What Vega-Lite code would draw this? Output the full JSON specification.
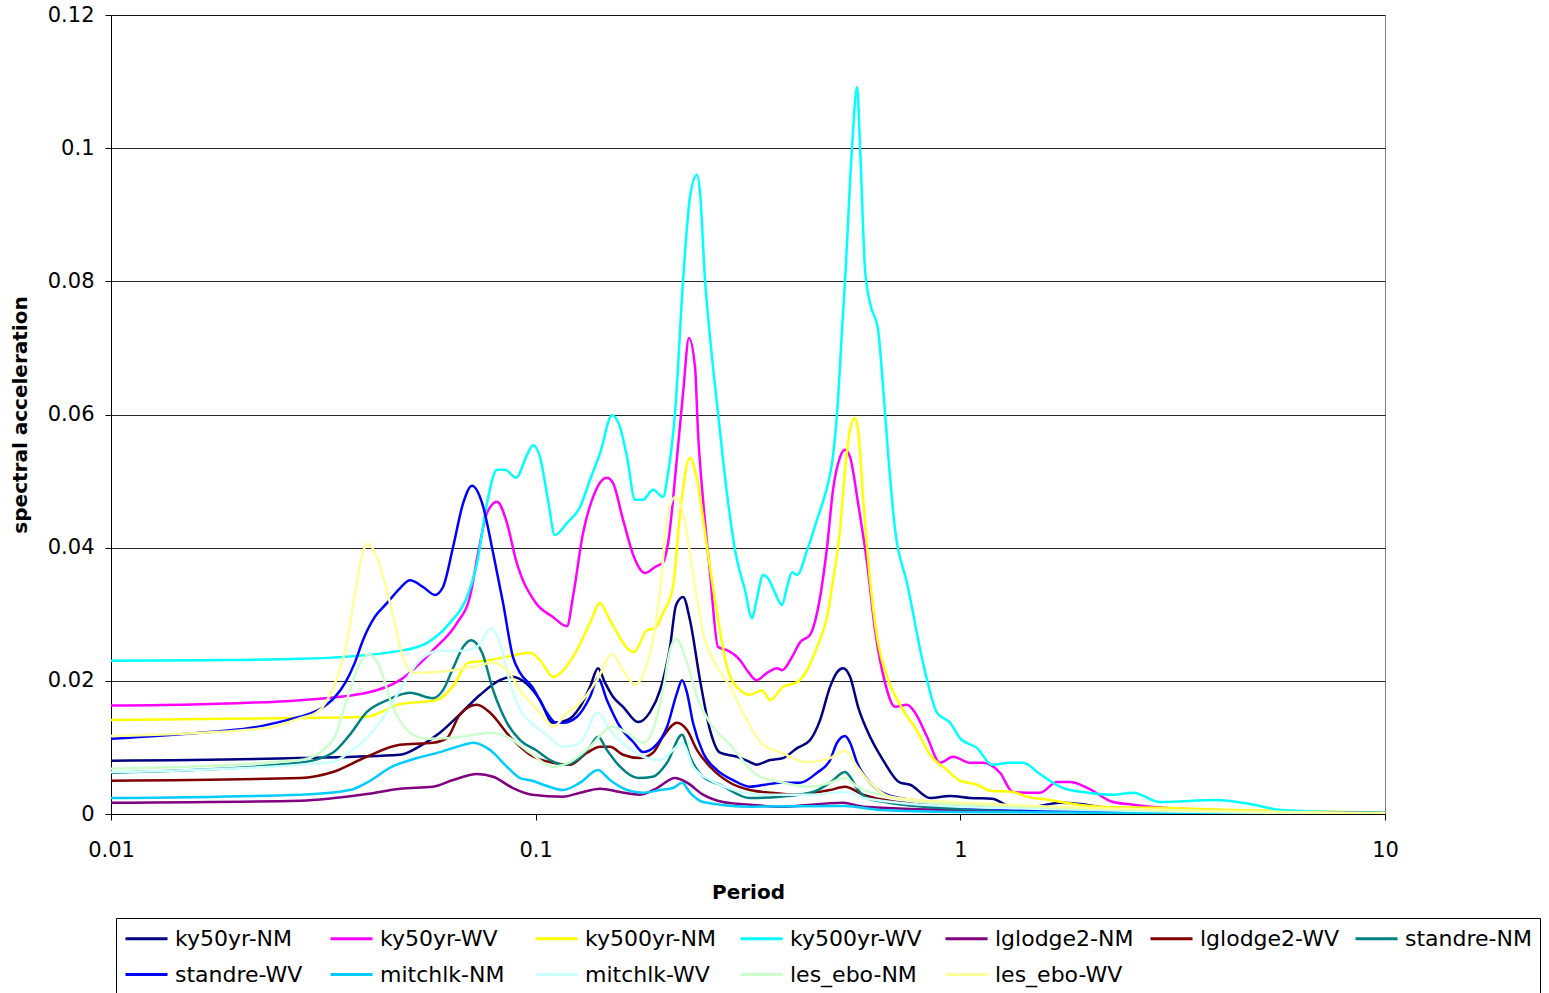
{
  "$schema": "https://vega.github.io/schema/vega-lite/v6.json",
  "width": 1274,
  "height": 799,
  "autosize": {"type": "none"},
  "padding": {"left": 111, "top": 15, "right": 164, "bottom": 179},
  "background": "white",
  "config": {
    "font": "DejaVu Sans",
    "view": {"stroke": "#808080", "strokeWidth": 1}
  },
  "datasets": {
    "spectra": [
      {"series":"ky50yr-NM","T":0.01,"Sa":0.0080},{"series":"ky50yr-NM","T":0.0279,"Sa":0.0084},{"series":"ky50yr-NM","T":0.0479,"Sa":0.0089},{"series":"ky50yr-NM","T":0.0534,"Sa":0.0102},{"series":"ky50yr-NM","T":0.0595,"Sa":0.0122},{"series":"ky50yr-NM","T":0.0664,"Sa":0.0150},{"series":"ky50yr-NM","T":0.0740,"Sa":0.0179},{"series":"ky50yr-NM","T":0.0824,"Sa":0.0201},{"series":"ky50yr-NM","T":0.0880,"Sa":0.0206},{"series":"ky50yr-NM","T":0.0954,"Sa":0.0195},{"series":"ky50yr-NM","T":0.1024,"Sa":0.0171},{"series":"ky50yr-NM","T":0.1098,"Sa":0.0137},{"series":"ky50yr-NM","T":0.1185,"Sa":0.0141},{"series":"ky50yr-NM","T":0.1272,"Sa":0.0161},{"series":"ky50yr-NM","T":0.1343,"Sa":0.0191},{"series":"ky50yr-NM","T":0.1402,"Sa":0.0219},{"series":"ky50yr-NM","T":0.1457,"Sa":0.0197},{"series":"ky50yr-NM","T":0.1521,"Sa":0.0176},{"series":"ky50yr-NM","T":0.1606,"Sa":0.0161},{"series":"ky50yr-NM","T":0.1742,"Sa":0.0138},{"series":"ky50yr-NM","T":0.1859,"Sa":0.0153},{"series":"ky50yr-NM","T":0.1963,"Sa":0.0186},{"series":"ky50yr-NM","T":0.2072,"Sa":0.0251},{"series":"ky50yr-NM","T":0.2141,"Sa":0.0314},{"series":"ky50yr-NM","T":0.2224,"Sa":0.0326},{"series":"ky50yr-NM","T":0.2309,"Sa":0.0291},{"series":"ky50yr-NM","T":0.2438,"Sa":0.0201},{"series":"ky50yr-NM","T":0.2574,"Sa":0.0126},{"series":"ky50yr-NM","T":0.2717,"Sa":0.0092},{"series":"ky50yr-NM","T":0.2980,"Sa":0.0086},{"series":"ky50yr-NM","T":0.3197,"Sa":0.0078},{"series":"ky50yr-NM","T":0.3312,"Sa":0.0074},{"series":"ky50yr-NM","T":0.3564,"Sa":0.0081},{"series":"ky50yr-NM","T":0.3824,"Sa":0.0084},{"series":"ky50yr-NM","T":0.4126,"Sa":0.0099},{"series":"ky50yr-NM","T":0.4427,"Sa":0.0111},{"series":"ky50yr-NM","T":0.4674,"Sa":0.0141},{"series":"ky50yr-NM","T":0.4934,"Sa":0.0191},{"series":"ky50yr-NM","T":0.5125,"Sa":0.0213},{"series":"ky50yr-NM","T":0.5295,"Sa":0.0219},{"series":"ky50yr-NM","T":0.5500,"Sa":0.0206},{"series":"ky50yr-NM","T":0.5743,"Sa":0.0161},{"series":"ky50yr-NM","T":0.6130,"Sa":0.0116},{"series":"ky50yr-NM","T":0.6578,"Sa":0.0081},{"series":"ky50yr-NM","T":0.7212,"Sa":0.0047},{"series":"ky50yr-NM","T":0.7614,"Sa":0.0044},{"series":"ky50yr-NM","T":0.8486,"Sa":0.0024},{"series":"ky50yr-NM","T":0.9458,"Sa":0.0027},{"series":"ky50yr-NM","T":1.054,"Sa":0.0024},{"series":"ky50yr-NM","T":1.188,"Sa":0.0023},{"series":"ky50yr-NM","T":1.309,"Sa":0.0012},{"series":"ky50yr-NM","T":1.482,"Sa":0.0011},{"series":"ky50yr-NM","T":1.717,"Sa":0.0017},{"series":"ky50yr-NM","T":1.913,"Sa":0.0015},{"series":"ky50yr-NM","T":2.217,"Sa":0.0009},{"series":"ky50yr-NM","T":2.551,"Sa":0.0005},{"series":"ky50yr-NM","T":5.0,"Sa":0.0002},{"series":"ky50yr-NM","T":10,"Sa":0.0001},

      {"series":"ky50yr-WV","T":0.01,"Sa":0.0163},{"series":"ky50yr-WV","T":0.0162,"Sa":0.0165},{"series":"ky50yr-WV","T":0.0279,"Sa":0.0171},{"series":"ky50yr-WV","T":0.0400,"Sa":0.0182},{"series":"ky50yr-WV","T":0.0479,"Sa":0.0201},{"series":"ky50yr-WV","T":0.0573,"Sa":0.0246},{"series":"ky50yr-WV","T":0.0653,"Sa":0.0287},{"series":"ky50yr-WV","T":0.0700,"Sa":0.0326},{"series":"ky50yr-WV","T":0.0732,"Sa":0.0392},{"series":"ky50yr-WV","T":0.0768,"Sa":0.0452},{"series":"ky50yr-WV","T":0.0811,"Sa":0.0469},{"series":"ky50yr-WV","T":0.0856,"Sa":0.0437},{"series":"ky50yr-WV","T":0.0899,"Sa":0.0381},{"series":"ky50yr-WV","T":0.1001,"Sa":0.0317},{"series":"ky50yr-WV","T":0.1098,"Sa":0.0296},{"series":"ky50yr-WV","T":0.1185,"Sa":0.0282},{"series":"ky50yr-WV","T":0.1224,"Sa":0.0326},{"series":"ky50yr-WV","T":0.1293,"Sa":0.0422},{"series":"ky50yr-WV","T":0.1365,"Sa":0.0476},{"series":"ky50yr-WV","T":0.1472,"Sa":0.0505},{"series":"ky50yr-WV","T":0.1521,"Sa":0.0497},{"series":"ky50yr-WV","T":0.1606,"Sa":0.0442},{"series":"ky50yr-WV","T":0.1704,"Sa":0.0386},{"series":"ky50yr-WV","T":0.1809,"Sa":0.0362},{"series":"ky50yr-WV","T":0.1910,"Sa":0.0371},{"series":"ky50yr-WV","T":0.1995,"Sa":0.0378},{"series":"ky50yr-WV","T":0.2050,"Sa":0.0407},{"series":"ky50yr-WV","T":0.2152,"Sa":0.0536},{"series":"ky50yr-WV","T":0.2224,"Sa":0.0632},{"series":"ky50yr-WV","T":0.2296,"Sa":0.0715},{"series":"ky50yr-WV","T":0.2373,"Sa":0.0671},{"series":"ky50yr-WV","T":0.2412,"Sa":0.0572},{"series":"ky50yr-WV","T":0.2478,"Sa":0.0472},{"series":"ky50yr-WV","T":0.2574,"Sa":0.0362},{"series":"ky50yr-WV","T":0.2688,"Sa":0.0251},{"series":"ky50yr-WV","T":0.2822,"Sa":0.0246},{"series":"ky50yr-WV","T":0.3029,"Sa":0.0231},{"series":"ky50yr-WV","T":0.3145,"Sa":0.0216},{"series":"ky50yr-WV","T":0.3312,"Sa":0.0201},{"series":"ky50yr-WV","T":0.3506,"Sa":0.0212},{"series":"ky50yr-WV","T":0.3702,"Sa":0.0219},{"series":"ky50yr-WV","T":0.3803,"Sa":0.0216},{"series":"ky50yr-WV","T":0.4016,"Sa":0.0236},{"series":"ky50yr-WV","T":0.4194,"Sa":0.0258},{"series":"ky50yr-WV","T":0.4427,"Sa":0.0269},{"series":"ky50yr-WV","T":0.4598,"Sa":0.0302},{"series":"ky50yr-WV","T":0.4855,"Sa":0.0401},{"series":"ky50yr-WV","T":0.5015,"Sa":0.0487},{"series":"ky50yr-WV","T":0.5209,"Sa":0.0536},{"series":"ky50yr-WV","T":0.5353,"Sa":0.0547},{"series":"ky50yr-WV","T":0.5500,"Sa":0.0536},{"series":"ky50yr-WV","T":0.5743,"Sa":0.0467},{"series":"ky50yr-WV","T":0.6031,"Sa":0.0377},{"series":"ky50yr-WV","T":0.6298,"Sa":0.0276},{"series":"ky50yr-WV","T":0.6649,"Sa":0.0197},{"series":"ky50yr-WV","T":0.7020,"Sa":0.0161},{"series":"ky50yr-WV","T":0.7491,"Sa":0.0164},{"series":"ky50yr-WV","T":0.7824,"Sa":0.0152},{"series":"ky50yr-WV","T":0.8349,"Sa":0.0116},{"series":"ky50yr-WV","T":0.8959,"Sa":0.0077},{"series":"ky50yr-WV","T":0.9612,"Sa":0.0086},{"series":"ky50yr-WV","T":1.054,"Sa":0.0077},{"series":"ky50yr-WV","T":1.131,"Sa":0.0077},{"series":"ky50yr-WV","T":1.240,"Sa":0.0062},{"series":"ky50yr-WV","T":1.330,"Sa":0.0033},{"series":"ky50yr-WV","T":1.540,"Sa":0.0032},{"series":"ky50yr-WV","T":1.689,"Sa":0.0048},{"series":"ky50yr-WV","T":1.812,"Sa":0.0048},{"series":"ky50yr-WV","T":1.995,"Sa":0.0039},{"series":"ky50yr-WV","T":2.288,"Sa":0.0018},{"series":"ky50yr-WV","T":2.551,"Sa":0.0014},{"series":"ky50yr-WV","T":3.067,"Sa":0.0009},{"series":"ky50yr-WV","T":4.02,"Sa":0.0006},{"series":"ky50yr-WV","T":5.70,"Sa":0.0003},{"series":"ky50yr-WV","T":10,"Sa":0.0002},

      {"series":"ky500yr-NM","T":0.01,"Sa":0.0141},{"series":"ky500yr-NM","T":0.0279,"Sa":0.0144},{"series":"ky500yr-NM","T":0.0400,"Sa":0.0146},{"series":"ky500yr-NM","T":0.0479,"Sa":0.0165},{"series":"ky500yr-NM","T":0.0585,"Sa":0.0171},{"series":"ky500yr-NM","T":0.0639,"Sa":0.0192},{"series":"ky500yr-NM","T":0.0693,"Sa":0.0227},{"series":"ky500yr-NM","T":0.0760,"Sa":0.0230},{"series":"ky500yr-NM","T":0.0856,"Sa":0.0236},{"series":"ky500yr-NM","T":0.0970,"Sa":0.0242},{"series":"ky500yr-NM","T":0.1024,"Sa":0.0231},{"series":"ky500yr-NM","T":0.1098,"Sa":0.0206},{"series":"ky500yr-NM","T":0.1224,"Sa":0.0236},{"series":"ky500yr-NM","T":0.1343,"Sa":0.0287},{"series":"ky500yr-NM","T":0.1418,"Sa":0.0317},{"series":"ky500yr-NM","T":0.1496,"Sa":0.0291},{"series":"ky500yr-NM","T":0.1704,"Sa":0.0243},{"series":"ky500yr-NM","T":0.1829,"Sa":0.0276},{"series":"ky500yr-NM","T":0.1910,"Sa":0.0279},{"series":"ky500yr-NM","T":0.1995,"Sa":0.0302},{"series":"ky500yr-NM","T":0.2106,"Sa":0.0341},{"series":"ky500yr-NM","T":0.2188,"Sa":0.0452},{"series":"ky500yr-NM","T":0.2309,"Sa":0.0535},{"series":"ky500yr-NM","T":0.2399,"Sa":0.0502},{"series":"ky500yr-NM","T":0.2532,"Sa":0.0401},{"series":"ky500yr-NM","T":0.2674,"Sa":0.0302},{"series":"ky500yr-NM","T":0.2822,"Sa":0.0221},{"series":"ky500yr-NM","T":0.3029,"Sa":0.0186},{"series":"ky500yr-NM","T":0.3197,"Sa":0.0179},{"series":"ky500yr-NM","T":0.3413,"Sa":0.0186},{"series":"ky500yr-NM","T":0.3564,"Sa":0.0171},{"series":"ky500yr-NM","T":0.3824,"Sa":0.0191},{"series":"ky500yr-NM","T":0.4126,"Sa":0.0198},{"series":"ky500yr-NM","T":0.4356,"Sa":0.0216},{"series":"ky500yr-NM","T":0.4598,"Sa":0.0251},{"series":"ky500yr-NM","T":0.4855,"Sa":0.0296},{"series":"ky500yr-NM","T":0.5015,"Sa":0.0351},{"series":"ky500yr-NM","T":0.5209,"Sa":0.0427},{"series":"ky500yr-NM","T":0.5353,"Sa":0.0517},{"series":"ky500yr-NM","T":0.5500,"Sa":0.0577},{"series":"ky500yr-NM","T":0.5651,"Sa":0.0595},{"series":"ky500yr-NM","T":0.5743,"Sa":0.0577},{"series":"ky500yr-NM","T":0.5902,"Sa":0.0476},{"series":"ky500yr-NM","T":0.6130,"Sa":0.0351},{"series":"ky500yr-NM","T":0.6401,"Sa":0.0257},{"series":"ky500yr-NM","T":0.6722,"Sa":0.0206},{"series":"ky500yr-NM","T":0.7212,"Sa":0.0164},{"series":"ky500yr-NM","T":0.7909,"Sa":0.0125},{"series":"ky500yr-NM","T":0.8486,"Sa":0.0089},{"series":"ky500yr-NM","T":0.9306,"Sa":0.0066},{"series":"ky500yr-NM","T":0.998,"Sa":0.0050},{"series":"ky500yr-NM","T":1.095,"Sa":0.0044},{"series":"ky500yr-NM","T":1.175,"Sa":0.0035},{"series":"ky500yr-NM","T":1.330,"Sa":0.0033},{"series":"ky500yr-NM","T":1.436,"Sa":0.0026},{"series":"ky500yr-NM","T":1.626,"Sa":0.0021},{"series":"ky500yr-NM","T":1.842,"Sa":0.0015},{"series":"ky500yr-NM","T":2.133,"Sa":0.0011},{"series":"ky500yr-NM","T":3.067,"Sa":0.0009},{"series":"ky500yr-NM","T":4.37,"Sa":0.0006},{"series":"ky500yr-NM","T":10,"Sa":0.0002},

      {"series":"ky500yr-WV","T":0.01,"Sa":0.0230},{"series":"ky500yr-WV","T":0.0162,"Sa":0.0231},{"series":"ky500yr-WV","T":0.0279,"Sa":0.0233},{"series":"ky500yr-WV","T":0.0479,"Sa":0.0245},{"series":"ky500yr-WV","T":0.0555,"Sa":0.0257},{"series":"ky500yr-WV","T":0.0628,"Sa":0.0287},{"series":"ky500yr-WV","T":0.0689,"Sa":0.0326},{"series":"ky500yr-WV","T":0.0728,"Sa":0.0377},{"series":"ky500yr-WV","T":0.0768,"Sa":0.0467},{"series":"ky500yr-WV","T":0.0811,"Sa":0.0517},{"series":"ky500yr-WV","T":0.0847,"Sa":0.0517},{"series":"ky500yr-WV","T":0.0899,"Sa":0.0505},{"series":"ky500yr-WV","T":0.0954,"Sa":0.0539},{"series":"ky500yr-WV","T":0.0986,"Sa":0.0554},{"series":"ky500yr-WV","T":0.1024,"Sa":0.0536},{"series":"ky500yr-WV","T":0.1069,"Sa":0.0472},{"series":"ky500yr-WV","T":0.1110,"Sa":0.0419},{"series":"ky500yr-WV","T":0.1185,"Sa":0.0437},{"series":"ky500yr-WV","T":0.1272,"Sa":0.0461},{"series":"ky500yr-WV","T":0.1343,"Sa":0.0502},{"series":"ky500yr-WV","T":0.1418,"Sa":0.0542},{"series":"ky500yr-WV","T":0.1513,"Sa":0.0599},{"series":"ky500yr-WV","T":0.1580,"Sa":0.0581},{"series":"ky500yr-WV","T":0.1641,"Sa":0.0536},{"series":"ky500yr-WV","T":0.1714,"Sa":0.0472},{"series":"ky500yr-WV","T":0.1790,"Sa":0.0472},{"series":"ky500yr-WV","T":0.1889,"Sa":0.0487},{"series":"ky500yr-WV","T":0.1995,"Sa":0.0476},{"series":"ky500yr-WV","T":0.2050,"Sa":0.0512},{"series":"ky500yr-WV","T":0.2129,"Sa":0.0602},{"series":"ky500yr-WV","T":0.2224,"Sa":0.0802},{"series":"ky500yr-WV","T":0.2272,"Sa":0.0882},{"series":"ky500yr-WV","T":0.2309,"Sa":0.0927},{"series":"ky500yr-WV","T":0.2399,"Sa":0.0960},{"series":"ky500yr-WV","T":0.2438,"Sa":0.0933},{"series":"ky500yr-WV","T":0.2505,"Sa":0.0802},{"series":"ky500yr-WV","T":0.2574,"Sa":0.0716},{"series":"ky500yr-WV","T":0.2688,"Sa":0.0602},{"series":"ky500yr-WV","T":0.2762,"Sa":0.0532},{"series":"ky500yr-WV","T":0.2869,"Sa":0.0446},{"series":"ky500yr-WV","T":0.2948,"Sa":0.0396},{"series":"ky500yr-WV","T":0.3112,"Sa":0.0336},{"series":"ky500yr-WV","T":0.3232,"Sa":0.0294},{"series":"ky500yr-WV","T":0.3312,"Sa":0.0321},{"series":"ky500yr-WV","T":0.3431,"Sa":0.0359},{"series":"ky500yr-WV","T":0.3525,"Sa":0.0354},{"series":"ky500yr-WV","T":0.3662,"Sa":0.0332},{"series":"ky500yr-WV","T":0.3803,"Sa":0.0314},{"series":"ky500yr-WV","T":0.3908,"Sa":0.0341},{"series":"ky500yr-WV","T":0.4016,"Sa":0.0363},{"series":"ky500yr-WV","T":0.4126,"Sa":0.0359},{"series":"ky500yr-WV","T":0.4356,"Sa":0.0396},{"series":"ky500yr-WV","T":0.4598,"Sa":0.0442},{"series":"ky500yr-WV","T":0.4855,"Sa":0.0491},{"series":"ky500yr-WV","T":0.4988,"Sa":0.0527},{"series":"ky500yr-WV","T":0.5125,"Sa":0.0602},{"series":"ky500yr-WV","T":0.5266,"Sa":0.0727},{"series":"ky500yr-WV","T":0.5353,"Sa":0.0802},{"series":"ky500yr-WV","T":0.5560,"Sa":0.1002},{"series":"ky500yr-WV","T":0.5713,"Sa":0.1092},{"series":"ky500yr-WV","T":0.5806,"Sa":0.1002},{"series":"ky500yr-WV","T":0.5966,"Sa":0.0817},{"series":"ky500yr-WV","T":0.6130,"Sa":0.0767},{"series":"ky500yr-WV","T":0.6401,"Sa":0.0727},{"series":"ky500yr-WV","T":0.6578,"Sa":0.0641},{"series":"ky500yr-WV","T":0.6758,"Sa":0.0542},{"series":"ky500yr-WV","T":0.7020,"Sa":0.0427},{"series":"ky500yr-WV","T":0.7491,"Sa":0.0347},{"series":"ky500yr-WV","T":0.8171,"Sa":0.0227},{"series":"ky500yr-WV","T":0.8815,"Sa":0.0152},{"series":"ky500yr-WV","T":0.9458,"Sa":0.0137},{"series":"ky500yr-WV","T":0.998,"Sa":0.0114},{"series":"ky500yr-WV","T":1.095,"Sa":0.0099},{"series":"ky500yr-WV","T":1.188,"Sa":0.0074},{"series":"ky500yr-WV","T":1.309,"Sa":0.0077},{"series":"ky500yr-WV","T":1.405,"Sa":0.0077},{"series":"ky500yr-WV","T":1.540,"Sa":0.0060},{"series":"ky500yr-WV","T":1.745,"Sa":0.0039},{"series":"ky500yr-WV","T":1.995,"Sa":0.0032},{"series":"ky500yr-WV","T":2.288,"Sa":0.0029},{"series":"ky500yr-WV","T":2.551,"Sa":0.0032},{"series":"ky500yr-WV","T":2.953,"Sa":0.0018},{"series":"ky500yr-WV","T":4.02,"Sa":0.0021},{"series":"ky500yr-WV","T":4.81,"Sa":0.0015},{"series":"ky500yr-WV","T":5.70,"Sa":0.0006},{"series":"ky500yr-WV","T":7.55,"Sa":0.0003},{"series":"ky500yr-WV","T":10,"Sa":0.0002},

      {"series":"lglodge2-NM","T":0.01,"Sa":0.0017},{"series":"lglodge2-NM","T":0.0279,"Sa":0.0020},{"series":"lglodge2-NM","T":0.0400,"Sa":0.0030},{"series":"lglodge2-NM","T":0.0479,"Sa":0.0038},{"series":"lglodge2-NM","T":0.0573,"Sa":0.0041},{"series":"lglodge2-NM","T":0.0639,"Sa":0.0051},{"series":"lglodge2-NM","T":0.0728,"Sa":0.0060},{"series":"lglodge2-NM","T":0.0794,"Sa":0.0056},{"series":"lglodge2-NM","T":0.0884,"Sa":0.0039},{"series":"lglodge2-NM","T":0.0981,"Sa":0.0029},{"series":"lglodge2-NM","T":0.1160,"Sa":0.0026},{"series":"lglodge2-NM","T":0.1272,"Sa":0.0032},{"series":"lglodge2-NM","T":0.1418,"Sa":0.0038},{"series":"lglodge2-NM","T":0.1580,"Sa":0.0033},{"series":"lglodge2-NM","T":0.1761,"Sa":0.0029},{"series":"lglodge2-NM","T":0.1931,"Sa":0.0039},{"series":"lglodge2-NM","T":0.2129,"Sa":0.0054},{"series":"lglodge2-NM","T":0.2272,"Sa":0.0047},{"series":"lglodge2-NM","T":0.2478,"Sa":0.0029},{"series":"lglodge2-NM","T":0.2762,"Sa":0.0018},{"series":"lglodge2-NM","T":0.3197,"Sa":0.0014},{"series":"lglodge2-NM","T":0.3762,"Sa":0.0011},{"series":"lglodge2-NM","T":0.5295,"Sa":0.0017},{"series":"lglodge2-NM","T":0.5902,"Sa":0.0011},{"series":"lglodge2-NM","T":0.998,"Sa":0.0006},{"series":"lglodge2-NM","T":10,"Sa":0.0001},

      {"series":"lglodge2-WV","T":0.01,"Sa":0.0050},{"series":"lglodge2-WV","T":0.0279,"Sa":0.0054},{"series":"lglodge2-WV","T":0.0333,"Sa":0.0063},{"series":"lglodge2-WV","T":0.0400,"Sa":0.0086},{"series":"lglodge2-WV","T":0.0479,"Sa":0.0104},{"series":"lglodge2-WV","T":0.0573,"Sa":0.0107},{"series":"lglodge2-WV","T":0.0618,"Sa":0.0114},{"series":"lglodge2-WV","T":0.0664,"Sa":0.0150},{"series":"lglodge2-WV","T":0.0728,"Sa":0.0164},{"series":"lglodge2-WV","T":0.0781,"Sa":0.0152},{"series":"lglodge2-WV","T":0.0870,"Sa":0.0116},{"series":"lglodge2-WV","T":0.0970,"Sa":0.0089},{"series":"lglodge2-WV","T":0.1098,"Sa":0.0077},{"series":"lglodge2-WV","T":0.1204,"Sa":0.0074},{"series":"lglodge2-WV","T":0.1322,"Sa":0.0092},{"series":"lglodge2-WV","T":0.1418,"Sa":0.0101},{"series":"lglodge2-WV","T":0.1496,"Sa":0.0101},{"series":"lglodge2-WV","T":0.1606,"Sa":0.0089},{"series":"lglodge2-WV","T":0.1761,"Sa":0.0084},{"series":"lglodge2-WV","T":0.1889,"Sa":0.0092},{"series":"lglodge2-WV","T":0.1995,"Sa":0.0116},{"series":"lglodge2-WV","T":0.2152,"Sa":0.0137},{"series":"lglodge2-WV","T":0.2272,"Sa":0.0126},{"series":"lglodge2-WV","T":0.2399,"Sa":0.0096},{"series":"lglodge2-WV","T":0.2574,"Sa":0.0071},{"series":"lglodge2-WV","T":0.2869,"Sa":0.0047},{"series":"lglodge2-WV","T":0.3197,"Sa":0.0036},{"series":"lglodge2-WV","T":0.3564,"Sa":0.0032},{"series":"lglodge2-WV","T":0.4126,"Sa":0.0029},{"series":"lglodge2-WV","T":0.4934,"Sa":0.0036},{"series":"lglodge2-WV","T":0.5353,"Sa":0.0041},{"series":"lglodge2-WV","T":0.5902,"Sa":0.0029},{"series":"lglodge2-WV","T":0.7099,"Sa":0.0018},{"series":"lglodge2-WV","T":0.998,"Sa":0.0011},{"series":"lglodge2-WV","T":10,"Sa":0.0001},

      {"series":"standre-NM","T":0.01,"Sa":0.0062},{"series":"standre-NM","T":0.0279,"Sa":0.0077},{"series":"standre-NM","T":0.0333,"Sa":0.0092},{"series":"standre-NM","T":0.0365,"Sa":0.0119},{"series":"standre-NM","T":0.0400,"Sa":0.0153},{"series":"standre-NM","T":0.0447,"Sa":0.0171},{"series":"standre-NM","T":0.0506,"Sa":0.0182},{"series":"standre-NM","T":0.0573,"Sa":0.0174},{"series":"standre-NM","T":0.0605,"Sa":0.0186},{"series":"standre-NM","T":0.0639,"Sa":0.0219},{"series":"standre-NM","T":0.0675,"Sa":0.0251},{"series":"standre-NM","T":0.0704,"Sa":0.0261},{"series":"standre-NM","T":0.0748,"Sa":0.0242},{"series":"standre-NM","T":0.0794,"Sa":0.0186},{"series":"standre-NM","T":0.0856,"Sa":0.0137},{"series":"standre-NM","T":0.0919,"Sa":0.0111},{"series":"standre-NM","T":0.1001,"Sa":0.0096},{"series":"standre-NM","T":0.1081,"Sa":0.0081},{"series":"standre-NM","T":0.1160,"Sa":0.0074},{"series":"standre-NM","T":0.1251,"Sa":0.0081},{"series":"standre-NM","T":0.1343,"Sa":0.0101},{"series":"standre-NM","T":0.1402,"Sa":0.0116},{"series":"standre-NM","T":0.1472,"Sa":0.0096},{"series":"standre-NM","T":0.1580,"Sa":0.0071},{"series":"standre-NM","T":0.1742,"Sa":0.0054},{"series":"standre-NM","T":0.1889,"Sa":0.0056},{"series":"standre-NM","T":0.2039,"Sa":0.0077},{"series":"standre-NM","T":0.2212,"Sa":0.0119},{"series":"standre-NM","T":0.2309,"Sa":0.0086},{"series":"standre-NM","T":0.2478,"Sa":0.0056},{"series":"standre-NM","T":0.2717,"Sa":0.0044},{"series":"standre-NM","T":0.3197,"Sa":0.0024},{"series":"standre-NM","T":0.3762,"Sa":0.0026},{"series":"standre-NM","T":0.4500,"Sa":0.0033},{"series":"standre-NM","T":0.4934,"Sa":0.0047},{"series":"standre-NM","T":0.5353,"Sa":0.0063},{"series":"standre-NM","T":0.5500,"Sa":0.0056},{"series":"standre-NM","T":0.5743,"Sa":0.0036},{"series":"standre-NM","T":0.6230,"Sa":0.0021},{"series":"standre-NM","T":0.998,"Sa":0.0008},{"series":"standre-NM","T":10,"Sa":0.0001},

      {"series":"standre-WV","T":0.01,"Sa":0.0113},{"series":"standre-WV","T":0.0162,"Sa":0.0122},{"series":"standre-WV","T":0.02125,"Sa":0.0129},{"series":"standre-WV","T":0.0260,"Sa":0.0141},{"series":"standre-WV","T":0.0279,"Sa":0.0146},{"series":"standre-WV","T":0.0311,"Sa":0.0158},{"series":"standre-WV","T":0.0337,"Sa":0.0176},{"series":"standre-WV","T":0.0356,"Sa":0.0197},{"series":"standre-WV","T":0.0375,"Sa":0.0227},{"series":"standre-WV","T":0.0392,"Sa":0.0261},{"series":"standre-WV","T":0.0418,"Sa":0.0296},{"series":"standre-WV","T":0.0447,"Sa":0.0317},{"series":"standre-WV","T":0.0479,"Sa":0.0339},{"series":"standre-WV","T":0.0506,"Sa":0.0351},{"series":"standre-WV","T":0.0543,"Sa":0.0341},{"series":"standre-WV","T":0.0579,"Sa":0.0329},{"series":"standre-WV","T":0.0605,"Sa":0.0341},{"series":"standre-WV","T":0.0639,"Sa":0.0401},{"series":"standre-WV","T":0.0675,"Sa":0.0467},{"series":"standre-WV","T":0.0708,"Sa":0.0493},{"series":"standre-WV","T":0.0748,"Sa":0.0467},{"series":"standre-WV","T":0.0794,"Sa":0.0392},{"series":"standre-WV","T":0.0838,"Sa":0.0317},{"series":"standre-WV","T":0.0884,"Sa":0.0236},{"series":"standre-WV","T":0.0919,"Sa":0.0212},{"series":"standre-WV","T":0.0981,"Sa":0.0191},{"series":"standre-WV","T":0.1063,"Sa":0.0152},{"series":"standre-WV","T":0.1110,"Sa":0.0138},{"series":"standre-WV","T":0.1160,"Sa":0.0137},{"series":"standre-WV","T":0.1251,"Sa":0.0146},{"series":"standre-WV","T":0.1343,"Sa":0.0176},{"series":"standre-WV","T":0.1402,"Sa":0.0204},{"series":"standre-WV","T":0.1472,"Sa":0.0171},{"series":"standre-WV","T":0.1580,"Sa":0.0131},{"series":"standre-WV","T":0.1704,"Sa":0.0107},{"series":"standre-WV","T":0.1790,"Sa":0.0093},{"series":"standre-WV","T":0.1889,"Sa":0.0099},{"series":"standre-WV","T":0.2039,"Sa":0.0131},{"series":"standre-WV","T":0.2152,"Sa":0.0182},{"series":"standre-WV","T":0.2212,"Sa":0.0201},{"series":"standre-WV","T":0.2272,"Sa":0.0182},{"series":"standre-WV","T":0.2347,"Sa":0.0137},{"series":"standre-WV","T":0.2478,"Sa":0.0092},{"series":"standre-WV","T":0.2674,"Sa":0.0066},{"series":"standre-WV","T":0.2916,"Sa":0.0051},{"series":"standre-WV","T":0.3197,"Sa":0.0041},{"series":"standre-WV","T":0.3468,"Sa":0.0044},{"series":"standre-WV","T":0.3762,"Sa":0.0047},{"series":"standre-WV","T":0.4194,"Sa":0.0047},{"series":"standre-WV","T":0.4598,"Sa":0.0062},{"series":"standre-WV","T":0.4934,"Sa":0.0081},{"series":"standre-WV","T":0.5125,"Sa":0.0107},{"series":"standre-WV","T":0.5353,"Sa":0.0117},{"series":"standre-WV","T":0.5500,"Sa":0.0107},{"series":"standre-WV","T":0.5713,"Sa":0.0077},{"series":"standre-WV","T":0.6130,"Sa":0.0047},{"series":"standre-WV","T":0.6722,"Sa":0.0029},{"series":"standre-WV","T":0.7739,"Sa":0.0021},{"series":"standre-WV","T":0.998,"Sa":0.0011},{"series":"standre-WV","T":1.240,"Sa":0.0008},{"series":"standre-WV","T":2.133,"Sa":0.0005},{"series":"standre-WV","T":10,"Sa":0.0001},

      {"series":"mitchlk-NM","T":0.01,"Sa":0.0024},{"series":"mitchlk-NM","T":0.0279,"Sa":0.0029},{"series":"mitchlk-NM","T":0.0365,"Sa":0.0036},{"series":"mitchlk-NM","T":0.0400,"Sa":0.0047},{"series":"mitchlk-NM","T":0.0459,"Sa":0.0071},{"series":"mitchlk-NM","T":0.0526,"Sa":0.0084},{"series":"mitchlk-NM","T":0.0595,"Sa":0.0093},{"series":"mitchlk-NM","T":0.0653,"Sa":0.0101},{"series":"mitchlk-NM","T":0.0715,"Sa":0.0107},{"series":"mitchlk-NM","T":0.0781,"Sa":0.0096},{"series":"mitchlk-NM","T":0.0856,"Sa":0.0071},{"series":"mitchlk-NM","T":0.0919,"Sa":0.0054},{"series":"mitchlk-NM","T":0.0981,"Sa":0.0050},{"series":"mitchlk-NM","T":0.1063,"Sa":0.0042},{"series":"mitchlk-NM","T":0.1160,"Sa":0.0036},{"series":"mitchlk-NM","T":0.1272,"Sa":0.0047},{"series":"mitchlk-NM","T":0.1402,"Sa":0.0066},{"series":"mitchlk-NM","T":0.1496,"Sa":0.0051},{"series":"mitchlk-NM","T":0.1641,"Sa":0.0036},{"series":"mitchlk-NM","T":0.1790,"Sa":0.0032},{"series":"mitchlk-NM","T":0.1963,"Sa":0.0036},{"series":"mitchlk-NM","T":0.2106,"Sa":0.0039},{"series":"mitchlk-NM","T":0.2212,"Sa":0.0047},{"series":"mitchlk-NM","T":0.2309,"Sa":0.0032},{"series":"mitchlk-NM","T":0.2478,"Sa":0.0018},{"series":"mitchlk-NM","T":0.3197,"Sa":0.0011},{"series":"mitchlk-NM","T":0.5353,"Sa":0.0012},{"series":"mitchlk-NM","T":0.6471,"Sa":0.0006},{"series":"mitchlk-NM","T":0.998,"Sa":0.0003},{"series":"mitchlk-NM","T":10,"Sa":0.0},

      {"series":"mitchlk-WV","T":0.01,"Sa":0.0063},{"series":"mitchlk-WV","T":0.0279,"Sa":0.0074},{"series":"mitchlk-WV","T":0.0333,"Sa":0.0078},{"series":"mitchlk-WV","T":0.0365,"Sa":0.0093},{"series":"mitchlk-WV","T":0.0400,"Sa":0.0114},{"series":"mitchlk-WV","T":0.0437,"Sa":0.0144},{"series":"mitchlk-WV","T":0.0479,"Sa":0.0186},{"series":"mitchlk-WV","T":0.0534,"Sa":0.0231},{"series":"mitchlk-WV","T":0.0595,"Sa":0.0245},{"series":"mitchlk-WV","T":0.0664,"Sa":0.0245},{"series":"mitchlk-WV","T":0.0728,"Sa":0.0251},{"series":"mitchlk-WV","T":0.0785,"Sa":0.0279},{"series":"mitchlk-WV","T":0.0824,"Sa":0.0257},{"series":"mitchlk-WV","T":0.0870,"Sa":0.0197},{"series":"mitchlk-WV","T":0.0919,"Sa":0.0156},{"series":"mitchlk-WV","T":0.0976,"Sa":0.0137},{"series":"mitchlk-WV","T":0.1063,"Sa":0.0119},{"series":"mitchlk-WV","T":0.1160,"Sa":0.0101},{"series":"mitchlk-WV","T":0.1272,"Sa":0.0107},{"series":"mitchlk-WV","T":0.1402,"Sa":0.0153},{"series":"mitchlk-WV","T":0.1496,"Sa":0.0126},{"series":"mitchlk-WV","T":0.1641,"Sa":0.0101},{"series":"mitchlk-WV","T":0.1790,"Sa":0.0086},{"series":"mitchlk-WV","T":0.1963,"Sa":0.0081},{"series":"mitchlk-WV","T":0.2106,"Sa":0.0096},{"series":"mitchlk-WV","T":0.2212,"Sa":0.0107},{"series":"mitchlk-WV","T":0.2347,"Sa":0.0071},{"series":"mitchlk-WV","T":0.2574,"Sa":0.0051},{"series":"mitchlk-WV","T":0.2869,"Sa":0.0038},{"series":"mitchlk-WV","T":0.3431,"Sa":0.0029},{"series":"mitchlk-WV","T":0.4500,"Sa":0.0029},{"series":"mitchlk-WV","T":0.5353,"Sa":0.0033},{"series":"mitchlk-WV","T":0.5902,"Sa":0.0024},{"series":"mitchlk-WV","T":0.998,"Sa":0.0011},{"series":"mitchlk-WV","T":10,"Sa":0.0},

      {"series":"les_ebo-NM","T":0.01,"Sa":0.0068},{"series":"les_ebo-NM","T":0.0279,"Sa":0.0081},{"series":"les_ebo-NM","T":0.0333,"Sa":0.0111},{"series":"les_ebo-NM","T":0.0356,"Sa":0.0164},{"series":"les_ebo-NM","T":0.0384,"Sa":0.0224},{"series":"les_ebo-NM","T":0.0403,"Sa":0.0240},{"series":"les_ebo-NM","T":0.0425,"Sa":0.0227},{"series":"les_ebo-NM","T":0.0459,"Sa":0.0164},{"series":"les_ebo-NM","T":0.0506,"Sa":0.0122},{"series":"les_ebo-NM","T":0.0555,"Sa":0.0113},{"series":"les_ebo-NM","T":0.0628,"Sa":0.0114},{"series":"les_ebo-NM","T":0.0716,"Sa":0.0119},{"series":"les_ebo-NM","T":0.0781,"Sa":0.0122},{"series":"les_ebo-NM","T":0.0856,"Sa":0.0116},{"series":"les_ebo-NM","T":0.0970,"Sa":0.0092},{"series":"les_ebo-NM","T":0.1098,"Sa":0.0071},{"series":"les_ebo-NM","T":0.1204,"Sa":0.0078},{"series":"les_ebo-NM","T":0.1343,"Sa":0.0101},{"series":"les_ebo-NM","T":0.1513,"Sa":0.0131},{"series":"les_ebo-NM","T":0.1641,"Sa":0.0122},{"series":"les_ebo-NM","T":0.1790,"Sa":0.0107},{"series":"les_ebo-NM","T":0.1889,"Sa":0.0126},{"series":"les_ebo-NM","T":0.1995,"Sa":0.0186},{"series":"les_ebo-NM","T":0.2072,"Sa":0.0246},{"series":"les_ebo-NM","T":0.2141,"Sa":0.0263},{"series":"les_ebo-NM","T":0.2272,"Sa":0.0227},{"series":"les_ebo-NM","T":0.2399,"Sa":0.0176},{"series":"les_ebo-NM","T":0.2574,"Sa":0.0137},{"series":"les_ebo-NM","T":0.2869,"Sa":0.0104},{"series":"les_ebo-NM","T":0.3312,"Sa":0.0059},{"series":"les_ebo-NM","T":0.3762,"Sa":0.0048},{"series":"les_ebo-NM","T":0.4427,"Sa":0.0041},{"series":"les_ebo-NM","T":0.4934,"Sa":0.0047},{"series":"les_ebo-NM","T":0.5353,"Sa":0.0054},{"series":"les_ebo-NM","T":0.5713,"Sa":0.0041},{"series":"les_ebo-NM","T":0.6471,"Sa":0.0029},{"series":"les_ebo-NM","T":0.998,"Sa":0.0014},{"series":"les_ebo-NM","T":10,"Sa":0.0001},

      {"series":"les_ebo-WV","T":0.01,"Sa":0.0117},{"series":"les_ebo-WV","T":0.0233,"Sa":0.0129},{"series":"les_ebo-WV","T":0.0279,"Sa":0.0144},{"series":"les_ebo-WV","T":0.0306,"Sa":0.0153},{"series":"les_ebo-WV","T":0.0333,"Sa":0.0189},{"series":"les_ebo-WV","T":0.0356,"Sa":0.0246},{"series":"les_ebo-WV","T":0.0375,"Sa":0.0329},{"series":"les_ebo-WV","T":0.0390,"Sa":0.0389},{"series":"les_ebo-WV","T":0.0403,"Sa":0.0406},{"series":"les_ebo-WV","T":0.0423,"Sa":0.0386},{"series":"les_ebo-WV","T":0.0454,"Sa":0.0317},{"series":"les_ebo-WV","T":0.0487,"Sa":0.0236},{"series":"les_ebo-WV","T":0.0514,"Sa":0.0212},{"series":"les_ebo-WV","T":0.0573,"Sa":0.0213},{"series":"les_ebo-WV","T":0.0639,"Sa":0.0216},{"series":"les_ebo-WV","T":0.0716,"Sa":0.0221},{"series":"les_ebo-WV","T":0.0789,"Sa":0.0227},{"series":"les_ebo-WV","T":0.0847,"Sa":0.0219},{"series":"les_ebo-WV","T":0.0919,"Sa":0.0186},{"series":"les_ebo-WV","T":0.1024,"Sa":0.0152},{"series":"les_ebo-WV","T":0.1098,"Sa":0.0131},{"series":"les_ebo-WV","T":0.1185,"Sa":0.0152},{"series":"les_ebo-WV","T":0.1272,"Sa":0.0167},{"series":"les_ebo-WV","T":0.1394,"Sa":0.0201},{"series":"les_ebo-WV","T":0.1513,"Sa":0.0240},{"series":"les_ebo-WV","T":0.1606,"Sa":0.0216},{"series":"les_ebo-WV","T":0.1714,"Sa":0.0194},{"series":"les_ebo-WV","T":0.1790,"Sa":0.0209},{"series":"les_ebo-WV","T":0.1889,"Sa":0.0261},{"series":"les_ebo-WV","T":0.1963,"Sa":0.0336},{"series":"les_ebo-WV","T":0.2039,"Sa":0.0442},{"series":"les_ebo-WV","T":0.2129,"Sa":0.0476},{"series":"les_ebo-WV","T":0.2224,"Sa":0.0452},{"series":"les_ebo-WV","T":0.2347,"Sa":0.0362},{"series":"les_ebo-WV","T":0.2478,"Sa":0.0272},{"series":"les_ebo-WV","T":0.2674,"Sa":0.0221},{"series":"les_ebo-WV","T":0.2869,"Sa":0.0192},{"series":"les_ebo-WV","T":0.3078,"Sa":0.0152},{"series":"les_ebo-WV","T":0.3431,"Sa":0.0104},{"series":"les_ebo-WV","T":0.3762,"Sa":0.0093},{"series":"les_ebo-WV","T":0.4356,"Sa":0.0078},{"series":"les_ebo-WV","T":0.4934,"Sa":0.0084},{"series":"les_ebo-WV","T":0.5353,"Sa":0.0095},{"series":"les_ebo-WV","T":0.5713,"Sa":0.0071},{"series":"les_ebo-WV","T":0.6130,"Sa":0.0047},{"series":"les_ebo-WV","T":0.6832,"Sa":0.0026},{"series":"les_ebo-WV","T":0.998,"Sa":0.0017},{"series":"les_ebo-WV","T":10,"Sa":0.0001}
    ]
  },
  "data": {"name": "spectra"},
  "mark": {"type": "line", "interpolate": "monotone", "strokeWidth": 2.5, "clip": true},
  "encoding": {
    "x": {
      "field": "T",
      "type": "quantitative",
      "scale": {"type": "log", "domain": [0.01, 10], "nice": false},
      "axis": {
        "title": "Period",
        "values": [0.01, 0.1, 1, 10],
        "labelExpr": "format(datum.value, '~g')",
        "grid": false,
        "domainColor": "black",
        "domainWidth": 1,
        "tickColor": "black",
        "tickSize": 6,
        "labelFont": "DejaVu Sans",
        "labelFontSize": 21,
        "labelColor": "black",
        "labelPadding": 19,
        "labelFlush": false,
        "labelOverlap": false,
        "titleFont": "DejaVu Sans",
        "titleFontSize": 20,
        "titleFontWeight": "bold",
        "titleColor": "black",
        "titlePadding": 22
      }
    },
    "y": {
      "field": "Sa",
      "type": "quantitative",
      "scale": {"domain": [0, 0.12], "nice": false},
      "axis": {
        "title": "spectral acceleration",
        "values": [0, 0.02, 0.04, 0.06, 0.08, 0.1, 0.12],
        "labelExpr": "datum.value == 0 ? '0' : format(datum.value, '.2~f')",
        "grid": true,
        "gridColor": "black",
        "gridWidth": 1,
        "gridOpacity": 0.85,
        "domainColor": "black",
        "domainWidth": 1,
        "tickColor": "black",
        "tickSize": 6,
        "labelFont": "DejaVu Sans",
        "labelFontSize": 21,
        "labelColor": "black",
        "labelPadding": 11,
        "labelOverlap": false,
        "titleFont": "DejaVu Sans",
        "titleFontSize": 20,
        "titleFontWeight": "bold",
        "titleColor": "black",
        "titlePadding": 17
      }
    },
    "color": {
      "field": "series",
      "type": "nominal",
      "scale": {
        "domain": ["ky50yr-NM", "ky50yr-WV", "ky500yr-NM", "ky500yr-WV", "lglodge2-NM", "lglodge2-WV", "standre-NM", "standre-WV", "mitchlk-NM", "mitchlk-WV", "les_ebo-NM", "les_ebo-WV"],
        "range": ["#000080", "#FF00FF", "#FFFF00", "#00FFFF", "#800080", "#800000", "#008080", "#0000FF", "#00CCFF", "#CCFFFF", "#CCFFCC", "#FFFF99"]
      },
      "legend": {
        "title": null,
        "orient": "none",
        "legendX": 5,
        "legendY": 903,
        "direction": "horizontal",
        "columns": 7,
        "gridAlign": "all",
        "symbolType": "M-1,0L2.82,0",
        "symbolSize": 484,
        "symbolStrokeWidth": 3,
        "labelFont": "DejaVu Sans",
        "labelFontSize": 22,
        "labelColor": "black",
        "labelOffset": 26,
        "labelLimit": 300,
        "columnPadding": 10,
        "rowPadding": 12,
        "padding": 8,
        "strokeColor": "black",
        "fillColor": "white"
      }
    }
  }
}
